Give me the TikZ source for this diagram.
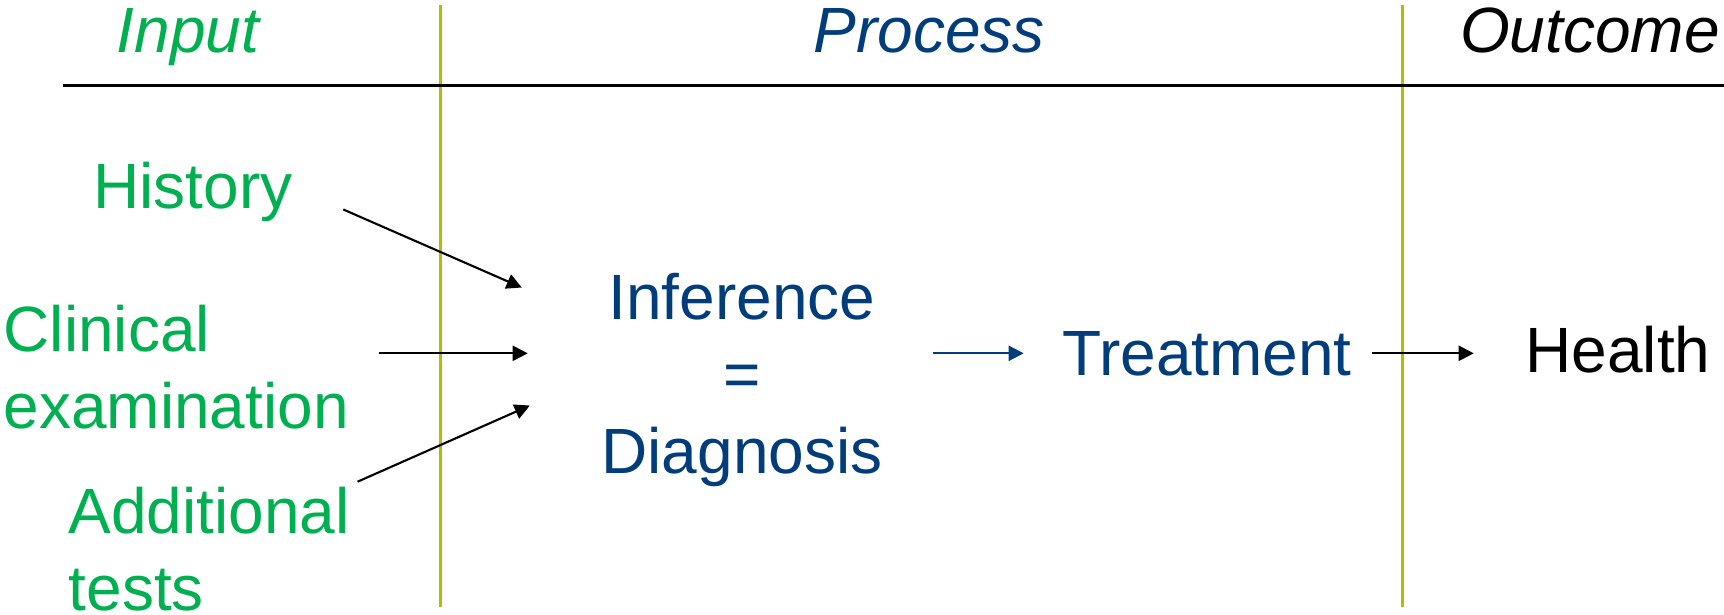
\documentclass[tikz,border=0pt]{standalone}
\usepackage{fontspec}
\setmainfont{Liberation Sans}
\usetikzlibrary{calc}
\usetikzlibrary{arrows.meta}
\definecolor{inputgreen}{RGB}{0,176,80}
\definecolor{procblue}{RGB}{0,61,122}
\definecolor{divider}{RGB}{180,190,0}
\tikzset{
  lbl/.style={inner sep=0, font=\fontsize{18.2}{21.9}\selectfont},
  head/.style={lbl, font=\fontsize{18.2}{21.9}\selectfont\itshape},
  link/.style={line width=.6pt, -{Triangle[length=4.3pt,width=4.3pt]}},
  rule/.style={line width=.85pt},
}

\begin{document}
\begin{tikzpicture}[x=0.01cm, y=-0.01cm]
\useasboundingbox (0,0) rectangle (1724,614);
% columns and header rule
\draw[divider, rule] (440,5) -- (440,607);
\draw[divider, rule] (1402,5) -- (1402,607);
\draw[black, rule] (63,85) -- (1724,85);
% headings
\node[head, text=inputgreen, anchor=base] (input) at (188,52) {Input};
\node[head, text=procblue, anchor=base] (process) at (929,52) {Process};
\node[head, text=black, anchor=base] (outcome) at (1590,52) {Outcome};
% inputs
\node[lbl, text=inputgreen, anchor=base] (history) at (193,208) {History};
\node[lbl, text=inputgreen, anchor=north west, align=left] (clinical) at (3,304) {Clinical\\examination};
\node[lbl, text=inputgreen, anchor=north west, align=left] (additional) at (68,486) {Additional\\tests};
% process and outcome
\node[lbl, text=procblue, anchor=north, align=center] (inference) at (742,272) {Inference\\=\\Diagnosis};
\node[lbl, text=procblue, anchor=base] (treatment) at (1207,375) {Treatment};
\node[lbl, text=black, anchor=base] (health) at (1618,372) {Health};
% connectors
\draw[link] ($(history.east)+(50,18)$) -- ($(inference.west)+(-79,-92)$);
\draw[link] ($(clinical.east |- treatment.west)+(29,0)$) -- ($(inference.west |- treatment.west)+(-73,0)$);
\draw[link] ($(additional.east)+(7,-67)$) -- ($(inference.west)+(-71,26)$);
\draw[link, procblue] ($(inference.east |- treatment.west)+(50,0)$) -- ($(treatment.west)+(-38,0)$);
\draw[link] ($(treatment.east)+(20,0)$) -- ($(health.west |- treatment.east)+(-51,0)$);
\end{tikzpicture}
\end{document}
